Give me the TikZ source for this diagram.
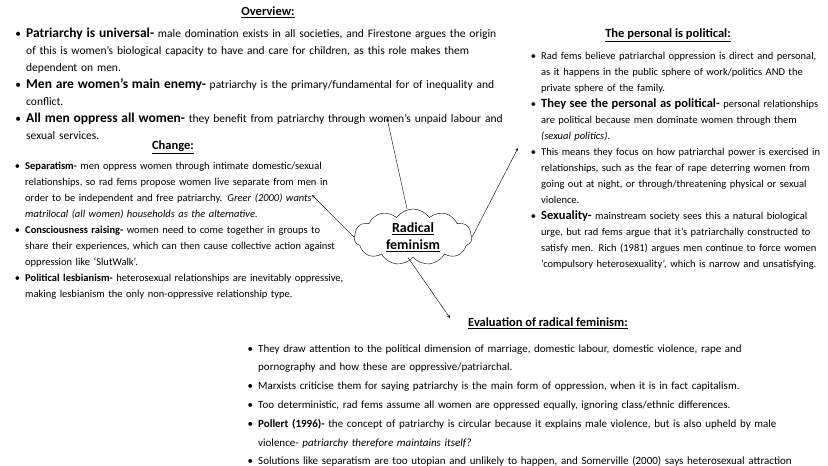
\documentclass[tikz,border=0pt]{standalone}
\usepackage{fontspec}
\setmainfont{Carlito}
\usepackage{enumitem}
\usetikzlibrary{shapes.symbols, arrows}
\tikzstyle{title} = [font=\fontsize{12.5}{14}\selectfont\bfseries, inner sep=0pt]
\tikzstyle{block} = [anchor=north west, inner sep=0pt, align=left]
\tikzstyle{arrow} = [->,>=stealth, thin]
\newenvironment{blist}[1]{\begin{itemize}[leftmargin=#1, itemsep=0pt, topsep=0pt, parsep=0pt, partopsep=0pt, label=\textbullet]}{\end{itemize}}

\begin{document}
\begin{tikzpicture}[x=1pt, y=-1pt]
	\useasboundingbox (0,0) rectangle (828,466);
	\node (ctr) [cloud, draw, cloud puffs=11, cloud puff arc=110, aspect=2.2, minimum width=118pt, minimum height=56pt, inner sep=0pt, align=center, font=\fontsize{14}{17}\selectfont\bfseries] at (413,237) {\underline{Radical}\\\underline{feminism}};
	
	\node (tover) [title] at (268,12) {\underline{Overview:}};
	\node (over) [block, text width=505pt, font=\fontsize{11.5}{17}\selectfont] at (4,20) {%
		\begin{blist}{22pt}
		\item {\fontsize{13.5}{17}\selectfont\bfseries Patriarchy is universal-} male domination exists in all societies, and Firestone argues the origin of this is women’s biological capacity to have and care for children, as this role makes them dependent on men.
		\item {\fontsize{13.5}{17}\selectfont\bfseries Men are women’s main enemy-} patriarchy is the primary/fundamental for of inequality and conflict.
		\item {\fontsize{13.5}{17}\selectfont\bfseries All men oppress all women-} they benefit from patriarchy through women’s unpaid labour and sexual services.
		\end{blist}};
	
	\node (tchange) [title] at (173,147) {\underline{Change:}};
	\node (change) [block, text width=340pt, font=\fontsize{10.5}{16}\selectfont] at (6,153) {%
		\begin{blist}{19pt}
		\item {\bfseries Separatism-} men oppress women through intimate domestic/sexual relationships, so rad fems propose women live separate from men in order to be independent and free patriarchy. \textit{Greer (2000) wants matrilocal (all women) households as the alternative.}
		\item {\bfseries Consciousness raising-} women need to come together in groups to share their experiences, which can then cause collective action against oppression like ‘SlutWalk’.
		\item {\bfseries Political lesbianism-} heterosexual relationships are inevitably oppressive, making lesbianism the only non-oppressive relationship type.
		\end{blist}};
	
	\node (tpers) [title] at (668,35) {\underline{The personal is political:}};
	\node (pers) [block, text width=292pt, font=\fontsize{10.5}{16}\selectfont] at (528,43) {%
		\begin{blist}{13pt}
		\item Rad fems believe patriarchal oppression is direct and personal, as it happens in the public sphere of work/politics AND the private sphere of the family.
		\item {\fontsize{12.5}{16}\selectfont\bfseries They see the personal as political-} personal relationships are political because men dominate women through them \textit{(sexual politics)}.
		\item This means they focus on how patriarchal power is exercised in relationships, such as the fear of rape deterring women from going out at night, or through/threatening physical or sexual violence.
		\item {\fontsize{12.5}{16}\selectfont\bfseries Sexuality-} mainstream society sees this a natural biological urge, but rad fems argue that it’s patriarchally constructed to satisfy men. Rich (1981) argues men continue to force women ‘compulsory heterosexuality’, which is narrow and unsatisfying.
		\end{blist}};
	
	\node (teval) [title] at (548,323) {\underline{Evaluation of radical feminism:}};
	\node (eval) [block, text width=565pt, font=\fontsize{11}{18.8}\selectfont] at (228,333) {%
		\begin{blist}{30pt}
		\item They draw attention to the political dimension of marriage, domestic labour, domestic violence, rape and pornography and how these are oppressive/patriarchal.
		\item Marxists criticise them for saying patriarchy is the main form of oppression, when it is in fact capitalism.
		\item Too deterministic, rad fems assume all women are oppressed equally, ignoring class/ethnic differences.
		\item {\bfseries Pollert (1996)-} the concept of patriarchy is circular because it explains male violence, but is also upheld by male violence- \textit{patriarchy therefore maintains itself?}
		\item Solutions like separatism are too utopian and unlikely to happen, and Somerville (2000) says heterosexual attraction means single-sex households aren’t likely to replace the nuclear family.
		\item Radical feminists ignore the positive changes there have been for women- right to divorce, equality act, etc.
		\end{blist}};
	
	\coordinate (aover) at (387,118);
	\coordinate (apers) at (518,148);
	\coordinate (achange) at (312,195);
	\coordinate (aeval) at (450,318);
	\draw [arrow] (ctr.north) ++(-6,0) -- (aover);
	\draw [arrow] (ctr.east) -- (apers);
	\draw [arrow] (ctr.west) -- (achange);
	\draw [arrow] (ctr.south) ++(-5,0) -- (aeval);
\end{tikzpicture}
\end{document}
